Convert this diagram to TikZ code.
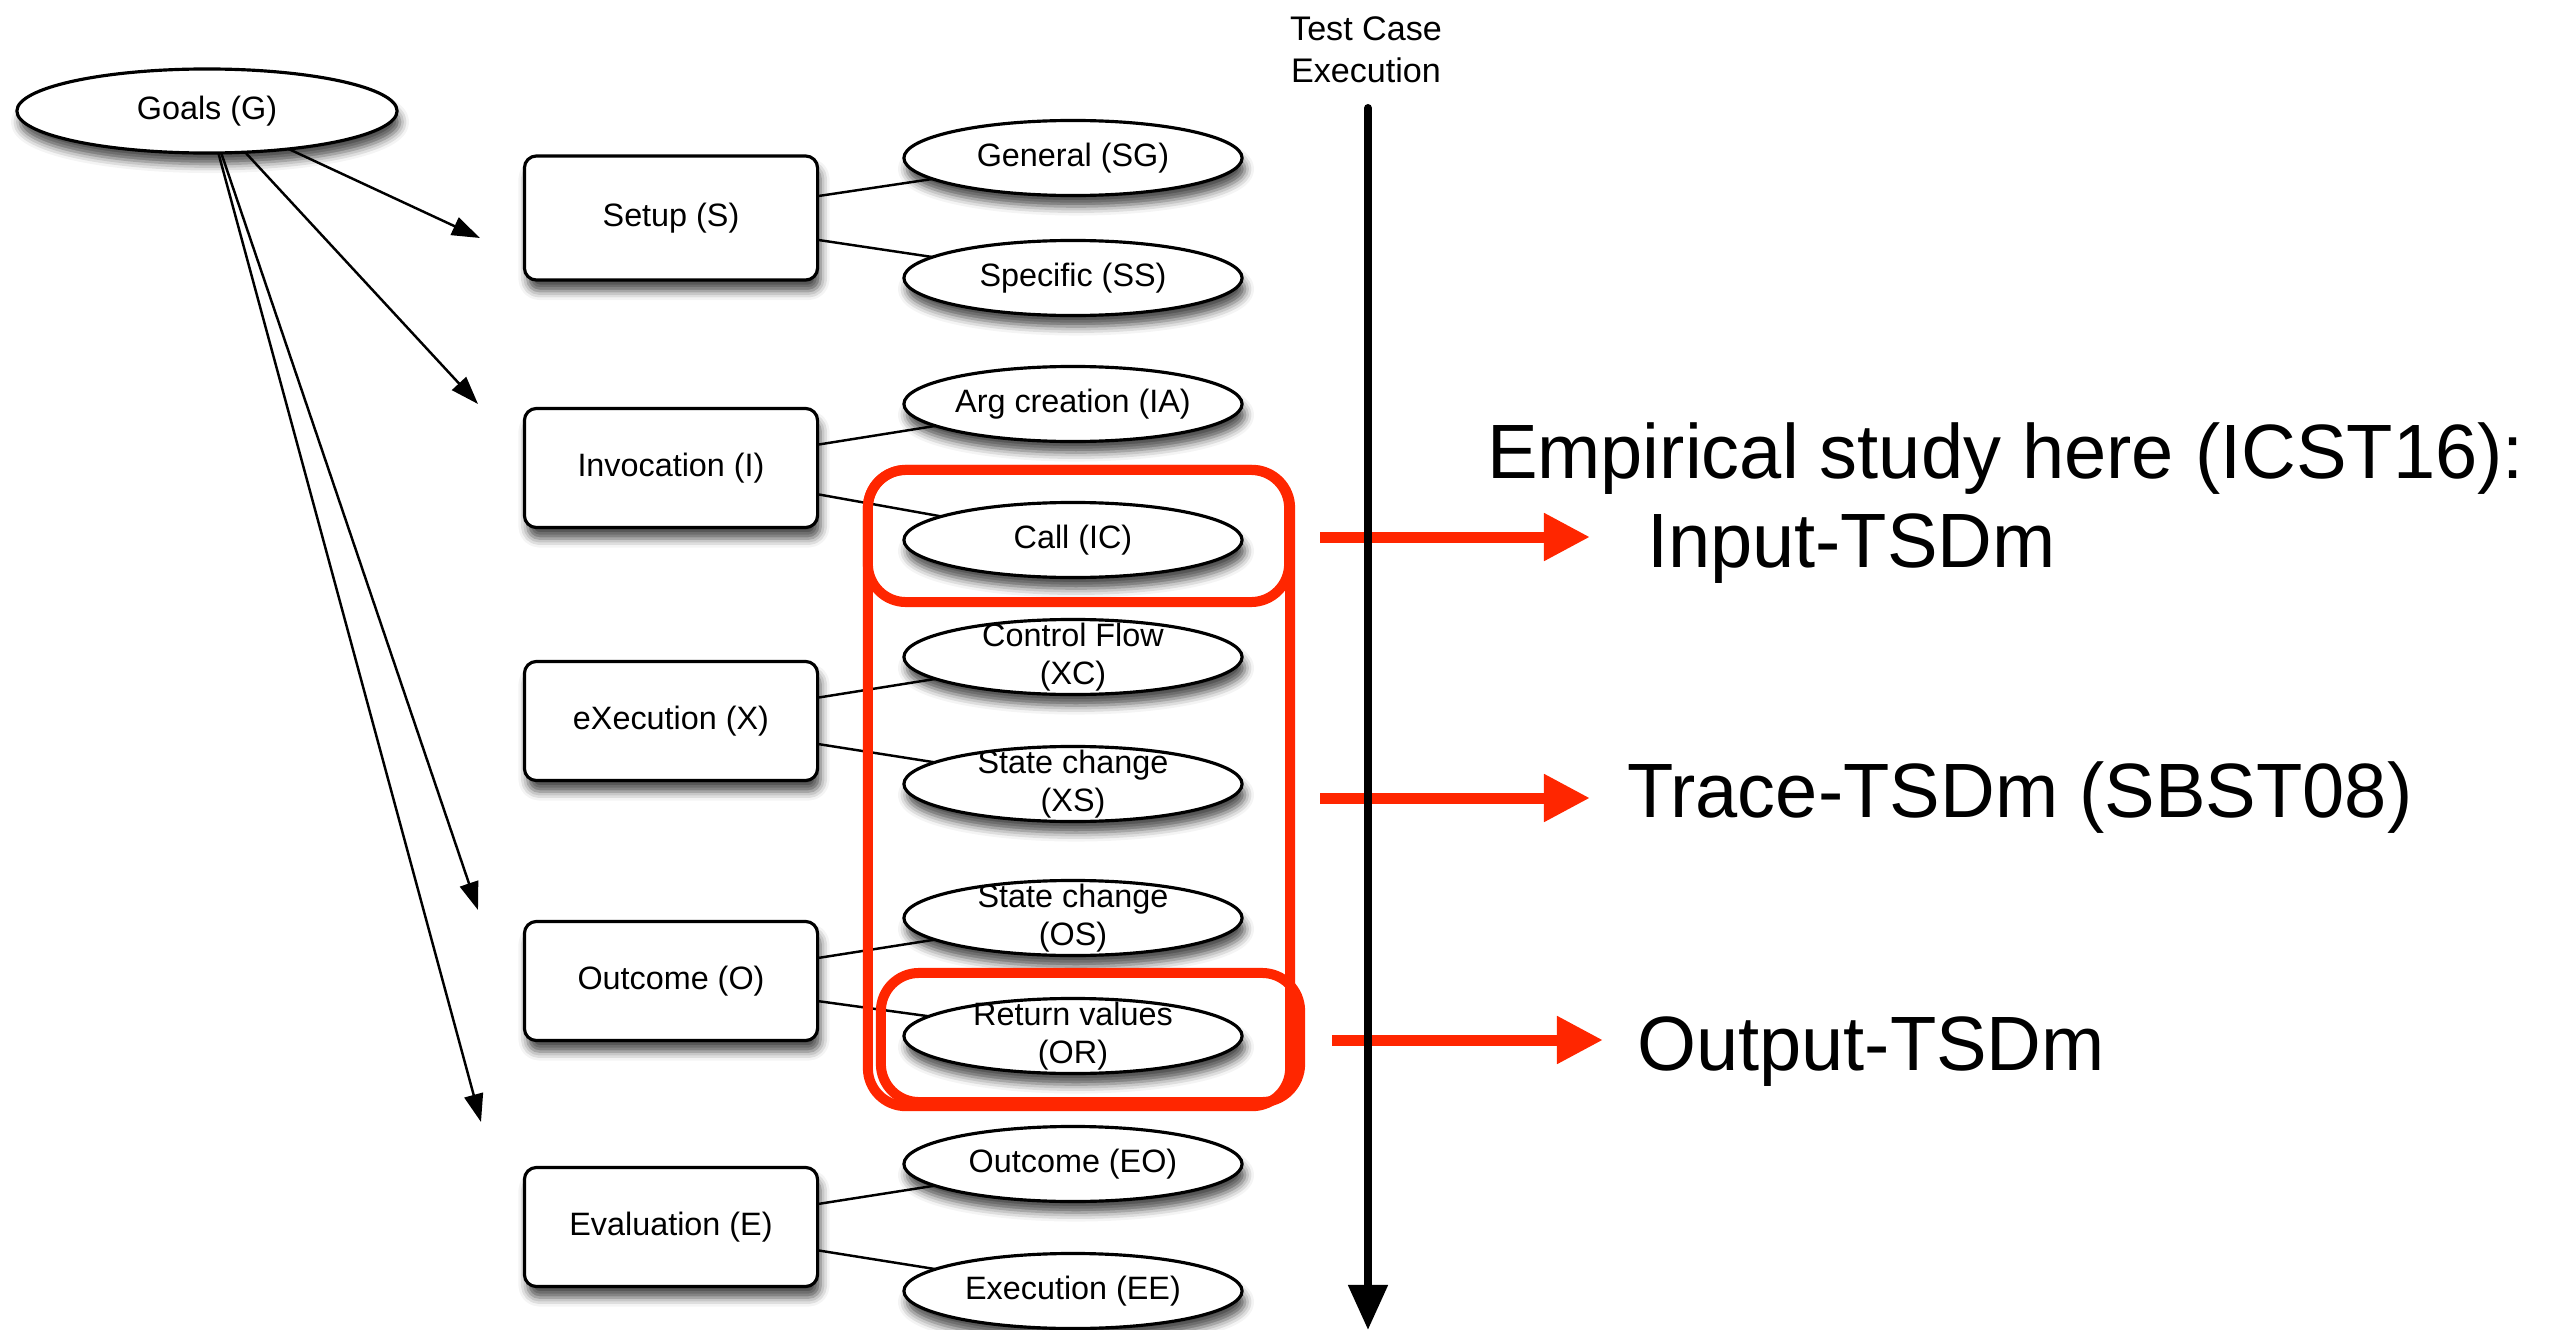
\documentclass[tikz,border=0pt]{standalone}
\usepackage{fontspec}
\setmainfont{Liberation Sans}
\newfontfamily\notefont[FakeStretch=0.985]{Liberation Sans}
\usetikzlibrary{arrows.meta,shapes.geometric,shadows.blur}
\definecolor{hlred}{RGB}{255,38,0}

\begin{document}
\begin{tikzpicture}[x=0.01cm,y=-0.01cm,
  every node/.style={inner sep=0pt, outer sep=0pt},
  dropshade/.style={blur shadow={shadow xshift=0.03cm, shadow yshift=-0.11cm,
      shadow blur radius=0.09cm, shadow opacity=70}},
  nodefont/.style={font=\fontsize{9.2pt}{10.8pt}\selectfont},
  goal/.style={ellipse, draw, line width=0.9pt, fill=white, dropshade,
      minimum width=3.8cm, minimum height=0.84cm, nodefont},
  phase/.style={rectangle, rounded corners=0.12cm, draw, line width=0.9pt,
      fill=white, dropshade, minimum width=2.93cm, minimum height=1.19cm, nodefont},
  aspect/.style={ellipse, draw, line width=0.9pt, fill=white, dropshade,
      minimum width=3.38cm, minimum height=0.75cm,
      label={[nodefont, align=center]center:#1}},
  link/.style={line width=0.7pt},
  goalarrow/.style={line width=0.7pt, -{Triangle[length=0.28cm,width=0.19cm]}},
  hlbox/.style={rectangle, draw=hlred, line width=0.1cm, rounded corners=0.38cm},
  hlarrow/.style={draw=hlred, line width=0.11cm, -{Triangle[length=0.46cm,width=0.45cm]}},
  bigtext/.style={font=\notefont\fontsize{21.9pt}{26pt}\selectfont, anchor=base west},
  timeline/.style={line width=0.08cm, line cap=round, -{Triangle[length=0.45cm,width=0.38cm]}}
]
\useasboundingbox (0,0) rectangle (2556,1330);

% goal and the five phases
\node[goal] (goals) at (207,111) {Goals (G)};
\node[phase, minimum height=1.24cm] (setup) at (671,218) {Setup (S)};
\node[phase] (invoc) at (671,468) {Invocation (I)};
\node[phase] (exec) at (671,721) {eXecution (X)};
\node[phase] (outc) at (671,981) {Outcome (O)};
\node[phase] (evalu) at (671,1227) {Evaluation (E)};

% aspects of each phase
\node[aspect={General (SG)}] (sg) at (1073,158) {};
\node[aspect={Specific (SS)}] (ss) at (1073,278) {};
\node[aspect={Arg creation (IA)}] (ia) at (1073,404) {};
\node[aspect={Call (IC)}] (ic) at (1073,540) {};
\node[aspect={Control Flow\\(XC)}] (xc) at (1073,657) {};
\node[aspect={State change\\(XS)}] (xs) at (1073,784) {};
\node[aspect={State change\\(OS)}] (os) at (1073,918) {};
\node[aspect={Return values\\(OR)}] (or) at (1073,1036) {};
\node[aspect={Outcome (EO)}] (eo) at (1073,1164) {};
\node[aspect={Execution (EE)}] (ee) at (1073,1291) {};

% phase-to-aspect links
\draw[link] (setup) -- (sg);
\draw[link] (setup) -- (ss);
\draw[link] (invoc) -- (ia);
\draw[link] (invoc) -- (ic);
\draw[link] (exec) -- (xc);
\draw[link] (exec) -- (xs);
\draw[link] (outc) -- (os);
\draw[link] (outc) -- (or);
\draw[link] (evalu) -- (eo);
\draw[link] (evalu) -- (ee);

% arrows leaving the goals node
\coordinate (tipS) at (480,238);
\coordinate (tipI) at (478,404);
\coordinate (tipO) at (478,910);
\coordinate (tipE) at (481,1122);
\draw[goalarrow] (goals) -- (tipS);
\draw[goalarrow] (goals) -- (tipI);
\draw[goalarrow] (goals) -- (tipO);
\draw[goalarrow] (goals) -- (tipE);

% highlighted groups
\node[hlbox, minimum width=4.22cm, minimum height=6.36cm] (trbox) at (1079,788) {};
\node[hlbox, minimum width=4.21cm, minimum height=1.32cm] (inbox) at (1078.5,536) {};
\node[hlbox, minimum width=4.19cm, minimum height=1.29cm] (outbox) at (1090.5,1037.5) {};

% pointers to the notes
\coordinate (inS) at (1320,537);
\coordinate (inE) at (1590,537);
\coordinate (trS) at (1320,798);
\coordinate (trE) at (1590,798);
\coordinate (ouS) at (1332,1040);
\coordinate (ouE) at (1603,1040);
\draw[hlarrow] (inS) -- (inE);
\draw[hlarrow] (trS) -- (trE);
\draw[hlarrow] (ouS) -- (ouE);

% test case execution time line
\node[font=\fontsize{9.7pt}{11.9pt}\selectfont, align=center] (tcx) at (1366,50) {Test Case\\Execution};
\coordinate (tlTop) at (1368,108);
\coordinate (tlBot) at (1368,1330);
\draw[timeline] (tlTop) -- (tlBot);

% notes
\node[bigtext] (n1) at (1487,478) {Empirical study here (ICST16):};
\node[bigtext] (n2) at (1647,567) {Input-TSDm};
\node[bigtext] (n3) at (1627,817) {Trace-TSDm (SBST08)};
\node[bigtext] (n4) at (1637,1070) {Output-TSDm};
\end{tikzpicture}
\end{document}
